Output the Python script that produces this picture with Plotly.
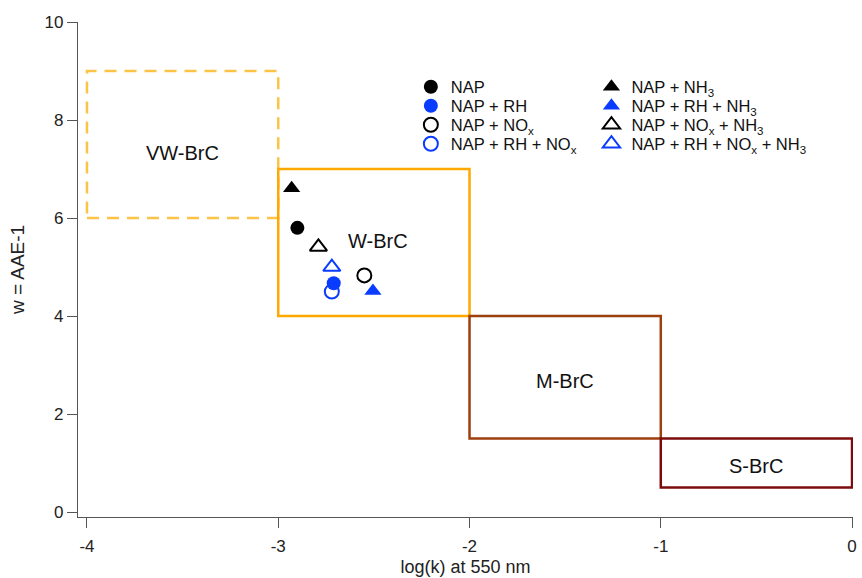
import plotly.graph_objects as go

# Brown-carbon optical classes
class_names = ["VW-BrC", "W-BrC", "M-BrC", "S-BrC"]
class_logk_lo = [-4, -3, -2, -1]
class_logk_hi = [-3, -2, -1, 0]
class_w_lo = [6, 4, 1.5, 0.5]
class_w_hi = [9, 7, 4, 1.5]
class_label_x = [-3.5, -2.48, -1.5, -0.5]
class_label_y = [7.33, 5.53, 2.67, 0.95]
class_colors = ["#FBC447", "#FFA800", "#9E3F0E", "#7C0C0C"]
class_dash = ["12px,8px", "solid", "solid", "solid"]

# Experiments: circles (without NH3) and triangles (with NH3)
exp_names = [
    "NAP", "NAP + RH", "NAP + NO<sub>x</sub>", "NAP + RH + NO<sub>x</sub>",
    "NAP + NH<sub>3</sub>", "NAP + RH + NH<sub>3</sub>",
    "NAP + NO<sub>x</sub> + NH<sub>3</sub>", "NAP + RH + NO<sub>x</sub> + NH<sub>3</sub>",
]
exp_logk = [-2.90, -2.71, -2.55, -2.72, -2.93, -2.505, -2.79, -2.72]
exp_w = [5.80, 4.67, 4.83, 4.50, 6.61, 4.51, 5.41, 5.00]
exp_symbol = ["circle", "circle", "circle-open", "circle-open",
              "triangle-up", "triangle-up", "triangle-up-open", "triangle-up-open"]
exp_color = ["#000000", "#0A3CFF", "#000000", "#0A3CFF",
             "#000000", "#0A3CFF", "#000000", "#0A3CFF"]

# Legend key layout: two columns of four entries (paper coordinates)
key_col_x = [0.4295, 0.6625]
key_row_y = [0.8687, 0.8303, 0.7919, 0.7535]

x_ticks = [-4, -3, -2, -1, 0]
y_ticks = [0, 2, 4, 6, 8, 10]

SANS = "Arial, Liberation Sans, sans-serif"
NARROW = "Liberation Sans Narrow, Arial Narrow, Arial, sans-serif"

fig = go.Figure()

for i, name in enumerate(class_names):
    fig.add_shape(
        type="rect", xref="x", yref="y",
        x0=class_logk_lo[i], x1=class_logk_hi[i],
        y0=class_w_lo[i], y1=class_w_hi[i],
        line=dict(color=class_colors[i], width=2.5, dash=class_dash[i]),
        fillcolor="rgba(0,0,0,0)", layer="below",
    )
    fig.add_annotation(
        x=class_label_x[i], y=class_label_y[i], text=name, showarrow=False,
        font=dict(family=SANS, size=20, color="#111111"),
    )

legend_layouts = {}
for i, name in enumerate(exp_names):
    is_open = exp_symbol[i].endswith("open")
    key = "legend" if i == 0 else f"legend{i + 1}"
    fig.add_trace(go.Scatter(
        x=[exp_logk[i]], y=[exp_w[i]], mode="markers", name=name,
        legend=key,
        marker=dict(
            symbol=exp_symbol[i], size=14 if "circle" in exp_symbol[i] else 15,
            color=exp_color[i],
            line=dict(color=exp_color[i], width=2 if is_open else 0),
        ),
    ))
    legend_layouts[key] = dict(
        x=key_col_x[i // 4], y=key_row_y[i % 4], xanchor="left", yanchor="middle",
        font=dict(family=SANS, size=16.5, color="#111111"),
        bgcolor="rgba(0,0,0,0)", borderwidth=0,
    )

axis_common = dict(
    showgrid=False, zeroline=False, showline=True, linecolor="#555555", linewidth=1.2,
    ticks="outside", ticklen=10, tickcolor="#555555", tickwidth=1.2,
    tickfont=dict(family=SANS, size=17, color="#222222"),
)

fig.update_layout(
    width=862, height=578,
    margin=dict(l=78, r=5, t=22, b=61),
    paper_bgcolor="white", plot_bgcolor="white",
    showlegend=True,
    **legend_layouts,
    xaxis=dict(
        range=[-4.047, 0.005], tickvals=x_ticks, ticktext=[str(v) for v in x_ticks],
        ticklabelstandoff=3,
        title=dict(text="log(k) at 550 nm", standoff=5,
                   font=dict(family=NARROW, size=18, color="#222222")),
        **axis_common,
    ),
    yaxis=dict(
        range=[-0.1, 10], tickvals=y_ticks, ticktext=[str(v) for v in y_ticks],
        title=dict(text="w = AAE-1", standoff=14,
                   font=dict(family=SANS, size=19, color="#222222")),
        **axis_common,
    ),
)

fig.write_html("out.html")
